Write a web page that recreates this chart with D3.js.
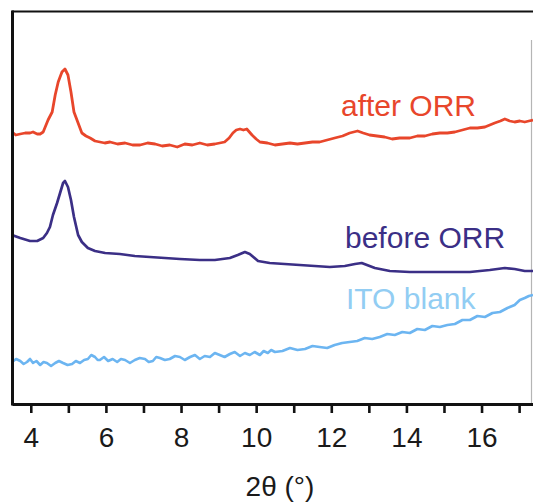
<!DOCTYPE html>
<html>
<head>
<meta charset="utf-8">
<script src="https://cdn.jsdelivr.net/npm/d3@7"></script>
<style>
  body { margin: 0; background: #fff; }
  svg { display: block; font-family: "Liberation Sans", Arial, sans-serif; }
</style>
</head>
<body>
<div id="chart"></div>
<script>
// XRD patterns, 2θ (deg) vs intensity (a.u., offset per trace)
var afterX = [3.50, 3.60, 3.72, 3.85, 3.98, 4.06, 4.17, 4.25, 4.33, 4.46, 4.57, 4.65, 4.73, 4.83, 4.91, 4.99, 5.07, 5.15, 5.26, 5.36,
  5.47, 5.58, 5.71, 5.84, 5.97, 6.11, 6.31, 6.51, 6.71, 6.91, 7.11, 7.31, 7.50, 7.70, 7.90, 8.10, 8.30, 8.50, 8.70, 8.90,
  9.03, 9.16, 9.28, 9.38, 9.47, 9.57, 9.66, 9.75, 9.89, 10.00, 10.10, 10.30, 10.50, 10.70, 10.90, 11.10, 11.30, 11.50, 11.69, 11.89,
  12.09, 12.30, 12.49, 12.70, 12.85, 13.02, 13.22, 13.42, 13.62, 13.82, 14.09, 14.29, 14.49, 14.69, 14.89, 15.09, 15.29, 15.49, 15.69, 15.89,
  16.09, 16.22, 16.35, 16.50, 16.62, 16.75, 16.88, 17.02, 17.15, 17.26, 17.37]
var afterY = [272, 269, 270, 271, 271, 272, 270, 270, 272, 284, 292, 309, 322, 332, 335, 329, 312, 292, 281, 271,
  268, 266, 263, 262, 261, 262, 260, 261, 259, 259, 261, 260, 258, 259, 257, 260, 259, 261, 259, 260,
  261, 262, 266, 271, 274, 275, 274, 275, 269, 265, 262, 261, 259, 260, 261, 260, 261, 262, 262, 264,
  266, 268, 271, 273, 271, 269, 268, 267, 265, 266, 266, 268, 268, 270, 271, 271, 272, 274, 276, 276,
  277, 279, 281, 283, 285, 283, 282, 283, 282, 283, 284]

var beforeX = [3.50, 3.72, 3.98, 4.17, 4.33, 4.43, 4.51, 4.59, 4.70, 4.78, 4.86, 4.91, 4.99, 5.07, 5.15, 5.26, 5.36, 5.52, 5.71, 5.98,
  6.37, 6.77, 7.17, 7.57, 7.97, 8.50, 8.90, 9.30, 9.51, 9.70, 9.83, 10.05, 10.36, 10.76, 11.16, 11.56, 11.96, 12.36, 12.63, 12.81,
  13.16, 13.56, 14.09, 14.62, 15.15, 15.69, 16.22, 16.62, 16.88, 17.15, 17.37]
var beforeY = [169, 166, 163, 163, 166, 171, 177, 189, 201, 211, 221, 223, 217, 204, 187, 169, 162, 156, 153, 151,
  150, 148, 147, 146, 145, 144, 144, 146, 149, 152, 150, 143, 141, 140, 139, 138, 137, 138, 140, 141,
  136, 133, 132, 132, 132, 132, 134, 136, 135, 133, 133]

var itoX = [3.50, 3.61, 3.72, 3.81, 3.90, 3.98, 4.06, 4.15, 4.25, 4.34, 4.43, 4.54, 4.65, 4.75, 4.86, 4.98, 5.10, 5.20, 5.31, 5.42,
  5.52, 5.61, 5.71, 5.78, 5.84, 5.95, 6.06, 6.18, 6.30, 6.40, 6.51, 6.64, 6.77, 6.90, 7.04, 7.14, 7.25, 7.34, 7.44, 7.57,
  7.70, 7.84, 7.97, 8.10, 8.24, 8.37, 8.50, 8.63, 8.77, 8.90, 9.03, 9.16, 9.30, 9.43, 9.57, 9.70, 9.83, 9.96, 10.10, 10.20,
  10.31, 10.40, 10.50, 10.70, 10.90, 11.10, 11.30, 11.50, 11.69, 11.89, 12.09, 12.29, 12.49, 12.69, 12.89, 13.09, 13.29, 13.49, 13.69, 13.89,
  14.09, 14.29, 14.49, 14.69, 14.89, 15.09, 15.29, 15.49, 15.69, 15.89, 16.09, 16.29, 16.49, 16.69, 16.88, 17.02, 17.15, 17.26, 17.37]
var itoY = [42, 45, 43, 40, 42, 45, 41, 43, 39, 42, 41, 38, 41, 43, 41, 39, 40, 43, 41, 44,
  45, 49, 47, 44, 44, 47, 43, 45, 42, 45, 44, 41, 44, 46, 45, 42, 43, 47, 46, 44,
  45, 48, 47, 44, 47, 49, 45, 48, 47, 51, 49, 47, 50, 52, 48, 51, 49, 52, 49, 53,
  51, 54, 52, 53, 56, 54, 55, 58, 57, 56, 59, 61, 62, 63, 66, 65, 67, 70, 69, 72,
  71, 75, 74, 78, 77, 79, 80, 84, 84, 88, 87, 91, 92, 96, 99, 104, 106, 108, 109]

var xTicks = [4, 5, 6, 7, 8, 9, 10, 11, 12, 13, 14, 15, 16, 17]
var labels = ['after ORR', 'before ORR', 'ITO blank']

function drawChart() {
  var width = 533, height = 503
  var margin = { top: 12, right: 0, bottom: 99, left: 12 }

  var svg = d3.select('#chart').append('svg')
    .attr('width', width)
    .attr('height', height)

  var x = d3.scaleLinear().domain([3.5, 17.37]).range([margin.left, width - margin.right])
  var y = d3.scaleLinear().domain([0, 392]).range([height - margin.bottom, margin.top])

  svg.append('clipPath').attr('id', 'plotclip')
    .append('rect')
    .attr('x', margin.left).attr('y', margin.top)
    .attr('width', width - margin.left).attr('height', height - margin.bottom - margin.top)

  // frame: top and right edge
  svg.append('line')
    .attr('x1', margin.left).attr('x2', width)
    .attr('y1', 11.5).attr('y2', 11.5)
    .attr('stroke', '#111').attr('stroke-width', 2.2)
  svg.append('line')
    .attr('x1', 531.5).attr('x2', 531.5)
    .attr('y1', 40).attr('y2', y(0))
    .attr('stroke', '#b5b5b5').attr('stroke-width', 1.2)

  var series = [
    { xs: afterX, ys: afterY, color: '#e8462b', w: 2.8 },
    { xs: beforeX, ys: beforeY, color: '#3b2f86', w: 2.7 },
    { xs: itoX, ys: itoY, color: '#6cb5f1', w: 2.6 }
  ]

  var line = d3.line()
    .x(function (d) { return x(d[0]) })
    .y(function (d) { return y(d[1]) })

  series.forEach(function (s) {
    var pts = s.xs.map(function (v, i) { return [v, s.ys[i]] })
    svg.append('path')
      .datum(pts)
      .attr('clip-path', 'url(#plotclip)')
      .attr('fill', 'none')
      .attr('stroke', s.color)
      .attr('stroke-width', s.w)
      .attr('stroke-linejoin', 'round')
      .attr('d', line)
  })

  // x axis
  var xAxis = svg.append('g')
    .attr('transform', 'translate(0,' + y(0) + ')')
    .call(d3.axisBottom(x)
      .tickValues(xTicks)
      .tickSize(9)
      .tickSizeOuter(0)
      .tickPadding(14)
      .tickFormat(function (d) { return d % 2 === 0 ? d : '' }))
  xAxis.select('.domain').attr('stroke', '#111').attr('stroke-width', 2.8)
  xAxis.selectAll('.tick line').attr('stroke', '#111').attr('stroke-width', 2.6)
  xAxis.selectAll('.tick text')
    .attr('fill', '#1a1a1a')
    .style('font-size', '28px')
    .style('font-family', '"Liberation Sans", Arial, sans-serif')

  // left axis line
  svg.append('line')
    .attr('x1', 12.5).attr('x2', 12.5)
    .attr('y1', 10.5).attr('y2', y(0) + 1.4)
    .attr('stroke', '#111').attr('stroke-width', 3)

  svg.append('text')
    .attr('x', 280).attr('y', 496)
    .attr('text-anchor', 'middle')
    .attr('fill', '#1a1a1a')
    .style('font-size', '28px')
    .text('2θ (°)')

  // trace labels
  var labelPos = [[341, 116, '#e8462b'], [345, 248, '#3b2f86'], [346, 309, '#92cdf3']]
  labels.forEach(function (t, i) {
    svg.append('text')
      .attr('x', labelPos[i][0]).attr('y', labelPos[i][1])
      .attr('fill', labelPos[i][2])
      .style('font-size', '30px')
      .text(t)
  })
}

drawChart()
</script>
</body>
</html>
